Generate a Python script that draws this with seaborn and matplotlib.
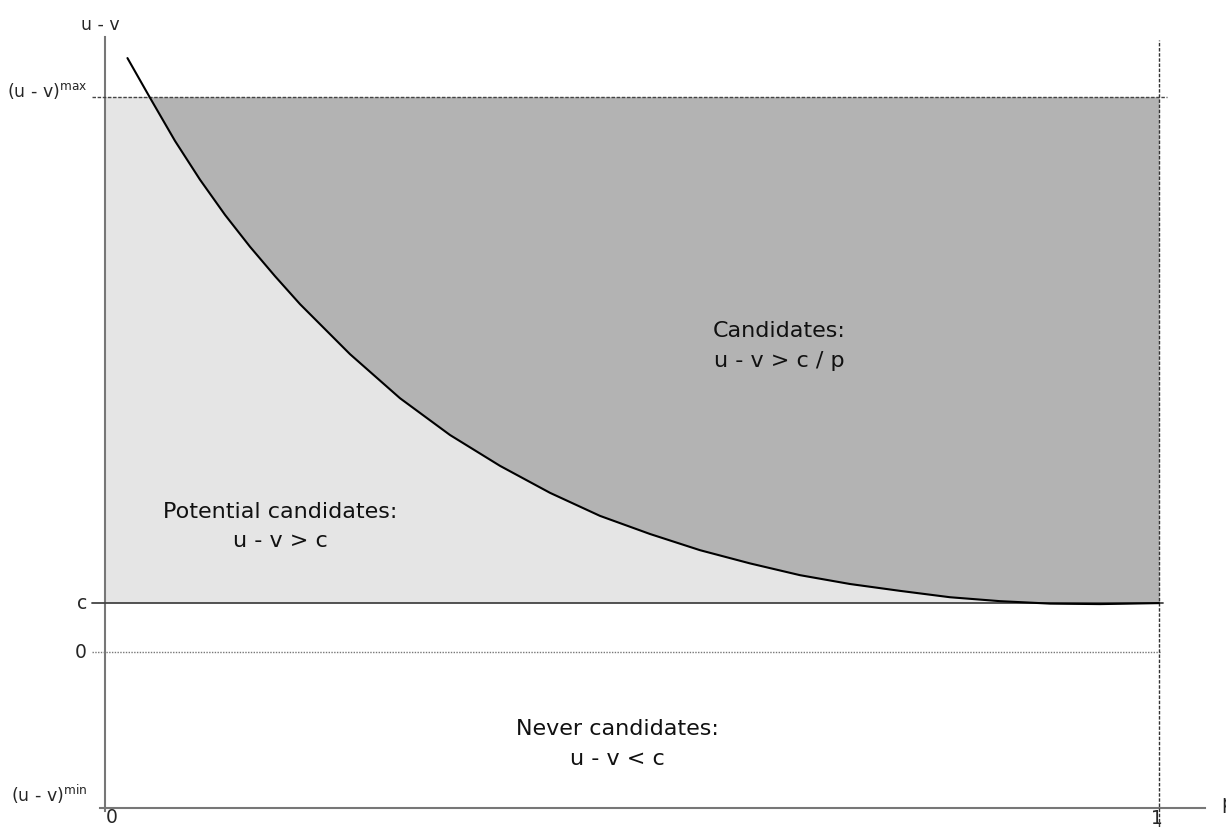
import numpy as np
import pandas as pd
import matplotlib
matplotlib.use("Agg")
import matplotlib.pyplot as plt
import seaborn as sns

# ---- data ----
p_vals = [0.0213, 0.0427, 0.0664, 0.0901, 0.1139, 0.1376, 0.1613, 0.1850,
          0.2324, 0.2799, 0.3273, 0.3748, 0.4222, 0.4696, 0.5171, 0.5645,
          0.6120, 0.6594, 0.7068, 0.7543, 0.8017, 0.8491, 0.8966, 0.9440, 1.0]
uv_vals = [12.12, 11.31, 10.43, 9.64, 8.92, 8.27, 7.67, 7.10,
           6.08, 5.18, 4.43, 3.80, 3.25, 2.78, 2.41, 2.08,
           1.81, 1.57, 1.39, 1.25, 1.12, 1.04, 0.99, 0.98, 1.0]
C_LEVEL = 1.0
UV_MAX = 11.33
UV_MIN = -3.18
ZERO = 0.0

ytick_pos = [UV_MIN, ZERO, C_LEVEL, UV_MAX]
ytick_labels = [r"(u - v)$^{\mathregular{min}}$", "0", "c", r"(u - v)$^{\mathregular{max}}$"]
xtick_pos = [0, 1]
xtick_labels = ["0", "1"]
region_labels = ["Candidates:\nu - v > c / p",
                 "Potential candidates:\nu - v > c",
                 "Never candidates:\nu - v < c"]

sns.set_style("white")
plt.rcParams['font.family'] = ['DejaVu Sans']

fig = plt.figure(figsize=(12.26, 8.27), dpi=100)
ax = fig.add_axes([105 / 1226, 19 / 827, 1100 / 1226, 771 / 827])
ax.set_xlim(0, 1.0436)
ax.set_ylim(UV_MIN, 12.55)

df = pd.DataFrame({"p": p_vals, "uv": uv_vals})
p = np.array(p_vals)
uv = np.array(uv_vals)

# light region: between c and max over the whole p range
ax.fill_between([0, 1], C_LEVEL, UV_MAX, color="#e5e5e5", lw=0, zorder=0)
# dark region: between the curve and max
ax.fill_between(p, np.minimum(uv, UV_MAX), UV_MAX, where=uv <= UV_MAX + 1e-9,
                interpolate=True, color="#b3b3b3", lw=0, zorder=1)

# reference lines
ax.axhline(UV_MAX, xmin=-0.0118, xmax=0.9655, color="#444444", lw=1.0,
           ls=(0, (2.5, 1.2)), clip_on=False, zorder=3)
ax.axhline(C_LEVEL, xmin=-0.0118, xmax=0.9618, color="#444444", lw=1.3,
           clip_on=False, zorder=3)
ax.axhline(ZERO, xmin=-0.0118, xmax=0.960, color="#777777", lw=1.0,
           ls=(0, (1, 1)), clip_on=False, zorder=3)
ax.axvline(1.0, ymin=-0.0246, ymax=0.996, color="#333333", lw=1.0,
           ls=(0, (2.5, 1.2)), clip_on=False, zorder=3)

# curve
sns.lineplot(data=df, x="p", y="uv", ax=ax, color="black", lw=1.5,
             sort=False, zorder=4)
for ln in ax.lines:
    ln.set_solid_joinstyle("round")

# axes styling
for s in ["top", "right"]:
    ax.spines[s].set_visible(False)
for s in ["left", "bottom"]:
    ax.spines[s].set_color("#777777")
    ax.spines[s].set_linewidth(1.5)
ax.spines["bottom"].set_bounds(-0.0047, 1.0436)
ax.spines["left"].set_bounds(UV_MIN - 0.06, 12.55)
ax.set_xticks([])
ax.set_yticks([])
ax.set_xlabel("")
ax.set_ylabel("")

# y tick labels
y_offsets = [9.7, 0, 0, 4.3]
y_sizes = [12.5, 13.5, 13.5, 12.5]
for yv, lab, dy, fs in zip(ytick_pos, ytick_labels, y_offsets, y_sizes):
    ax.annotate(lab, xy=(0, yv), xytext=(-13, dy), textcoords="offset points",
                ha="right", va="center", fontsize=fs, annotation_clip=False)

# x tick labels
x_offsets = [(5, -6.8), (-1.4, -7.5)]
for xv, lab, (dx, dy) in zip(xtick_pos, xtick_labels, x_offsets):
    ax.annotate(lab, xy=(xv, UV_MIN), xytext=(dx, dy), textcoords="offset points",
                ha="center", va="center", fontsize=13.5, annotation_clip=False)

# axis labels
ax.annotate("u - v", xy=(0, 1), xycoords="axes fraction", xytext=(-3.6, 8.6),
            textcoords="offset points", ha="center", va="center", fontsize=12.5,
            annotation_clip=False)
ax.annotate("p", xy=(1, 0), xycoords="axes fraction", xytext=(12, 3),
            textcoords="offset points", ha="left", va="center", fontsize=13.5,
            annotation_clip=False)

# region labels
region_pos = [(0.6395, 6.24), (0.166, 2.56), (0.486, -1.88)]
for (xv, yv), lab in zip(region_pos, region_labels):
    ax.text(xv, yv, lab, ha="center", va="center", fontsize=16, linespacing=1.6,
            color="#111111")

fig.savefig("out.png", dpi=100)
